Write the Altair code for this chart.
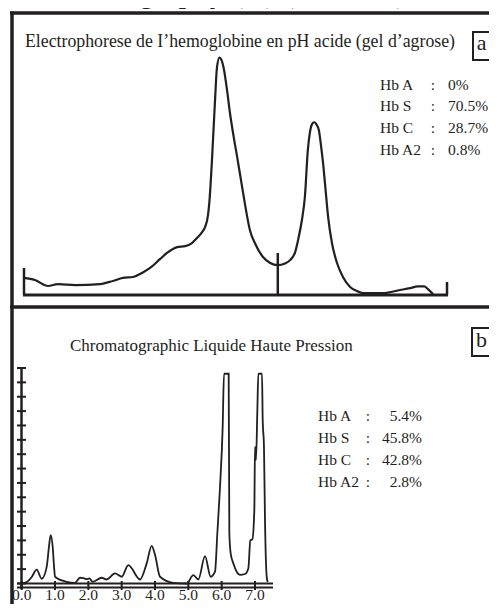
import altair as alt
import pandas as pd

# ---------------- data ----------------
main_title = "Chromatography (A) (Facies b)"
title_a = "Electrophorese de I\u2019hemoglobine en pH acide (gel d\u2019agrose)"
title_b = "Chromatographic Liquide Haute Pression"
panel_a_label = "a"
panel_b_label = "b"

# Panel a: electrophoresis densitogram (relative migration, relative absorbance)
elec_pos = [0, 2.6, 5.7, 8.0, 12.1, 18.0, 21.0, 23.4, 25.8, 27.9,
            29.8, 32.2, 33.8, 36.2, 38.1, 39.7, 40.9, 42.1, 42.8, 43.5,
            43.8, 44.1, 44.4, 44.8, 45.2, 45.6, 46.2, 46.7, 47.3, 48.0,
            48.7, 49.5, 50.4, 51.3, 52.2, 53.4, 54.8, 56.5, 58.2, 60.0,
            61.7, 62.9, 64.1, 64.8, 65.7, 66.4, 67.1, 67.6, 68.1, 68.6,
            69.1, 69.7, 70.2, 70.7, 71.3, 71.9, 72.8, 74.0, 75.4, 77.1,
            78.7, 80.1, 84.9, 88.9, 91.3, 93.1, 94.6, 95.5, 96.7]
elec_abs = [7.2, 6.3, 3.8, 4.6, 4.2, 4.6, 5.9, 7.2, 7.6, 9.3,
            11.4, 15.2, 17.7, 20.2, 20.6, 21.9, 24.0, 26.5, 28.6, 33.7,
            38.7, 46.3, 55.6, 69.5, 83.4, 95.6, 100, 99, 94.7, 86.3,
            76.6, 67.4, 58.1, 48.4, 38.7, 27.4, 21.1, 16.0, 13.5, 12.6,
            13.3, 14.7, 18.1, 23.2, 31.6, 41.3, 61.1, 68.6, 72.0, 72.8,
            72.0, 69.5, 63.2, 55.6, 44.2, 32.8, 21.9, 13.5, 7.6, 3.4,
            1.7, 0.8, 0.8, 2.1, 2.9, 3.6, 3.6, 2.5, 0.4]
elec_marks_pos = [0, 60, 100]
elec_marks_top = [11.4, 17.7, 5.5]

# Panel b: HPLC chromatogram (retention time, absorbance)
hplc_time = [0, 0.15, 0.3, 0.45, 0.6, 0.75, 0.82, 0.87, 0.93, 0.97,
             1.0, 1.35, 1.6, 1.75, 1.85, 1.95, 2.03, 2.13, 2.4, 2.55,
             2.8, 3.0, 3.2, 3.55, 3.75, 3.9, 4.0, 4.15, 4.55, 4.95,
             5.15, 5.3, 5.5, 5.67, 5.8, 5.87, 5.95, 6.03, 6.07, 6.21,
             6.23, 6.27, 6.35, 6.55, 6.7, 6.8, 6.86, 6.92, 6.98, 7.0,
             7.03, 7.07, 7.1, 7.21, 7.23, 7.27, 7.3, 7.35, 7.38]
hplc_abs = [0, 0.1, 0.45, 0.96, 0.33, 1.16, 2.6, 3.37, 2.56, 1.2,
            0.47, 0.12, 0.05, 0.4, 0.38, 0.3, 0.35, 0.12, 0.4, 0.28,
            0.7, 0.47, 1.28, 0.28, 1.4, 2.62, 2.0, 0.47, 0.05, 0,
            0.58, 0.28, 1.9, 0.47, 0.82, 3.5, 6.7, 10.9, 14.6, 14.6,
            3.5, 2.1, 1.4, 0.6, 0.66, 1.05, 3.0, 3.07, 5.1, 9.5,
            8.6, 12.0, 14.6, 14.6, 11.5, 9.4, 4.4, 0.5, 0.1]
hplc_x_ticks = [0, 1, 2, 3, 4, 5, 6, 7]
hplc_x_labels = ["0.0", "1.0", "2.0", "3.0", "4.0", "5.0", "6.0", "7.0"]
hplc_y_ticks = list(range(16))

hb_names = ["Hb A", "Hb S", "Hb C", "Hb A2"]
elec_pct = ["0%", "70.5%", "28.7%", "0.8%"]
hplc_pct = ["5.4%", "45.8%", "42.8%", "2.8%"]

# ---------------- style ----------------
INK = "#231f20"
FONT = "Liberation Serif"

sxa = alt.Scale(domain=[0, 100], range=[16, 439], nice=False, zero=False)
sya = alt.Scale(domain=[0, 100], range=[287, 49.7], nice=False, zero=False)
sxb = alt.Scale(domain=[0, 7], range=[13.7, 247], nice=False, zero=False)
syb = alt.Scale(domain=[0, 15], range=[575.5, 360], nice=False, zero=False)
row_a = alt.Scale(type="point", domain=hb_names, range=[81.5, 147], padding=0)
row_b = alt.Scale(type="point", domain=hb_names, range=[412.7, 478.7], padding=0)

one = pd.DataFrame({"k": [0]})


def rule(x, x2, y, y2, w):
    return alt.Chart(one).mark_rule(color=INK, strokeWidth=w, strokeCap="butt").encode(
        x=alt.value(x), x2=alt.value(x2), y=alt.value(y), y2=alt.value(y2))


def label(txt, x, y, size, align="left"):
    return alt.Chart(one).mark_text(
        text=txt, font=FONT, fontSize=size, color=INK, align=align,
        baseline="alphabetic").encode(x=alt.value(x), y=alt.value(y))


def box(x, x2, y, y2):
    return alt.Chart(one).mark_rect(fill="white", stroke=INK, strokeWidth=2).encode(
        x=alt.value(x), x2=alt.value(x2), y=alt.value(y), y2=alt.value(y2))


df_a = pd.DataFrame({"pos": elec_pos, "abs": elec_abs})
df_am = pd.DataFrame({"pos": elec_marks_pos, "top": elec_marks_top, "base": [0, 0, 0]})
df_b = pd.DataFrame({"t": hplc_time, "v": hplc_abs})
df_bx = pd.DataFrame({"t": hplc_x_ticks, "lab": hplc_x_labels})
df_by = pd.DataFrame({"v": hplc_y_ticks})
df_ra = pd.DataFrame({"name": hb_names, "pct": elec_pct})
df_rb = pd.DataFrame({"name": hb_names, "pct": hplc_pct})

TXT = 15.5

layers = []
# outer frame
layers.append(label(main_title, 7, -6, 31))
layers.append(rule(2, 492, 5, 5, 3.5))
layers.append(rule(4, 4, 3.5, 610, 3.5))
layers.append(rule(2, 492, 299, 299, 3.5))

# panel a
layers.append(label(title_a, 17, 38.7, 17.8))
layers.append(box(465, 500, 24, 52))
layers.append(label(panel_a_label, 473.5, 42, 22, "center"))
layers.append(rule(15, 440, 287, 287, 3))
layers.append(alt.Chart(df_am).mark_rule(color=INK, strokeWidth=2.5).encode(
    x=alt.X("pos:Q", scale=sxa, axis=None),
    y=alt.Y("top:Q", scale=sya, axis=None), y2="base:Q"))
layers.append(alt.Chart(df_a).mark_line(color=INK, strokeWidth=2.2, interpolate="monotone").encode(
    x=alt.X("pos:Q", scale=sxa, axis=None),
    y=alt.Y("abs:Q", scale=sya, axis=None)))
layers.append(alt.Chart(df_ra).mark_text(font=FONT, fontSize=TXT, color=INK, align="left", baseline="alphabetic").encode(
    x=alt.value(372), y=alt.Y("name:N", scale=row_a, axis=None), text="name:N"))
layers.append(alt.Chart(df_ra).mark_text(font=FONT, fontSize=TXT, color=INK, align="center", baseline="alphabetic", text=":").encode(
    x=alt.value(425), y=alt.Y("name:N", scale=row_a, axis=None)))
layers.append(alt.Chart(df_ra).mark_text(font=FONT, fontSize=TXT, color=INK, align="left", baseline="alphabetic").encode(
    x=alt.value(440), y=alt.Y("name:N", scale=row_a, axis=None), text="pct:N"))

# panel b
layers.append(label(title_b, 62, 343, 17))
layers.append(box(464, 500, 320, 348))
layers.append(label(panel_b_label, 473.5, 339, 22, "center"))
layers.append(rule(13.5, 13.5, 359, 581, 2.5))
layers.append(rule(9, 265, 575.5, 575.5, 2))
layers.append(rule(9, 265, 579.5, 579.5, 2))
layers.append(alt.Chart(df_by).mark_rule(color=INK, strokeWidth=2).encode(
    x=alt.value(9), x2=alt.value(18), y=alt.Y("v:Q", scale=syb, axis=None)))
layers.append(alt.Chart(df_bx).mark_rule(color=INK, strokeWidth=2).encode(
    x=alt.X("t:Q", scale=sxb, axis=None), y=alt.value(573), y2=alt.value(582)))
layers.append(alt.Chart(df_bx).mark_text(font=FONT, fontSize=15.5, color=INK, align="center", baseline="alphabetic").encode(
    x=alt.X("t:Q", scale=sxb, axis=None), y=alt.value(592), text="lab:N"))
layers.append(alt.Chart(df_b).mark_line(color=INK, strokeWidth=1.8, interpolate="monotone").encode(
    x=alt.X("t:Q", scale=sxb, axis=None),
    y=alt.Y("v:Q", scale=syb, axis=None)))
layers.append(alt.Chart(df_rb).mark_text(font=FONT, fontSize=TXT, color=INK, align="left", baseline="alphabetic").encode(
    x=alt.value(310), y=alt.Y("name:N", scale=row_b, axis=None), text="name:N"))
layers.append(alt.Chart(df_rb).mark_text(font=FONT, fontSize=TXT, color=INK, align="center", baseline="alphabetic", text=":").encode(
    x=alt.value(360), y=alt.Y("name:N", scale=row_b, axis=None)))
layers.append(alt.Chart(df_rb).mark_text(font=FONT, fontSize=TXT, color=INK, align="right", baseline="alphabetic").encode(
    x=alt.value(414), y=alt.Y("name:N", scale=row_b, axis=None), text="pct:N"))

chart = alt.layer(*layers).resolve_scale(x="independent", y="independent").properties(
    width=481, height=596, padding=0,
    autosize=alt.AutoSizeParams(type="none"),
).configure_view(stroke=None)

chart.save("out.html", embed_options={"renderer": "svg", "actions": False})
